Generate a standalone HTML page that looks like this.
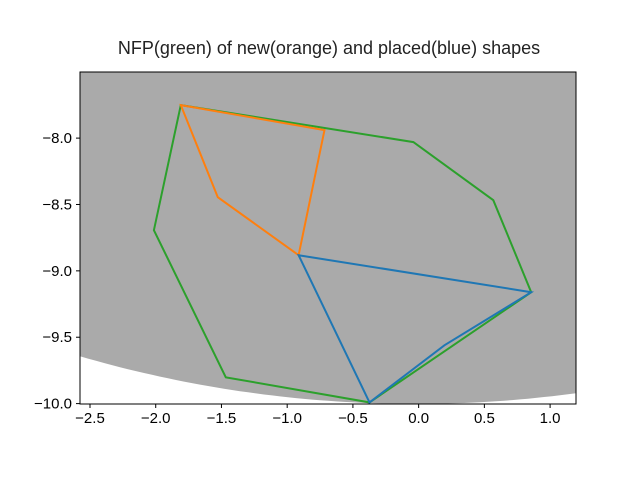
<!DOCTYPE html>
<html><head><meta charset="utf-8"><style>body{margin:0;background:#fff}svg{display:block;font-family:"Liberation Sans","DejaVu Sans",sans-serif}</style></head>
<body>
<svg id="chart" width="640" height="480">
<text x="329" y="54" text-anchor="middle" font-size="18" fill="#222">NFP(green) of new(orange) and placed(blue) shapes</text>
<clipPath id="clip"><rect x="80" y="72" width="496" height="332"/></clipPath>
<g id="plot" clip-path="url(#clip)"></g>
<g id="axes"></g>
</svg>
<script>
const xTicks=[-2.5,-2.0,-1.5,-1.0,-0.5,0.0,0.5,1.0];
const yTicks=[-8.0,-8.5,-9.0,-9.5,-10.0];
const greenX=[-1.809,-0.040,0.568,0.856,-0.374,-1.467,-2.014];
const greenY=[-7.751,-8.030,-8.468,-9.161,-9.991,-9.802,-8.694];
const orangeX=[-1.809,-0.716,-0.913,-1.528];
const orangeY=[-7.751,-7.940,-8.882,-8.445];
const blueX=[-0.913,0.856,0.196,-0.374];
const blueY=[-8.882,-9.161,-9.561,-9.991];
const X0=80,X1=576,Y0=72,Y1=404,xmin=-2.576,xmax=1.197,ymin=-10.003,ymax=-7.502;
const sx=v=>X0+(v-xmin)/(xmax-xmin)*(X1-X0);
const sy=v=>Y1-(v-ymin)/(ymax-ymin)*(Y1-Y0);
const NS="http://www.w3.org/2000/svg";
const plot=document.getElementById('plot'),axes=document.getElementById('axes');
function mk(tag,attrs,parent){const e=document.createElementNS(NS,tag);for(const k in attrs)e.setAttribute(k,attrs[k]);parent.appendChild(e);return e;}
let d="M80,72 L576,72 ";
const cx=415,R=1200,cy=404-R;
for(let px=576;px>=80;px-=8){const py=cy+Math.sqrt(R*R-(px-cx)*(px-cx));d+="L"+px+","+py.toFixed(1)+" ";}
d+="Z";
const bg=mk('path',{d:d,fill:'#aaaaaa'},plot);


function poly(xs,ys,color,name){
 const pts=xs.map((x,i)=>sx(x).toFixed(1)+","+sy(ys[i]).toFixed(1)).join(" ");
 const p=mk('polygon',{points:pts,fill:'none',stroke:color,'stroke-width':2},plot);
 
 
}
poly(greenX,greenY,'#2ca02c','nfp-green-polygon');
poly(orangeX,orangeY,'#ff7f0e','new-orange-polygon');
poly(blueX,blueY,'#1f77b4','placed-blue-polygon');
const fr=mk('rect',{x:X0,y:Y0,width:X1-X0,height:Y1-Y0,fill:'none',stroke:'#000','stroke-width':1},axes);


xTicks.forEach(v=>{const x=sx(v);
 mk('line',{x1:x,x2:x,y1:Y1,y2:Y1+4,stroke:'#000'},axes);
 const t=mk('text',{x:x,y:Y1+19,'text-anchor':'middle','font-size':15,fill:'#000'},axes);
 t.textContent=v.toFixed(1).replace('-','\u2212');
 
 });
yTicks.forEach(v=>{const y=sy(v);
 mk('line',{x1:X0-4,x2:X0,y1:y,y2:y,stroke:'#000'},axes);
 const t=mk('text',{x:X0-8,y:y+5,'text-anchor':'end','font-size':15,fill:'#000'},axes);
 t.textContent=v.toFixed(1).replace('-','\u2212');
 
 });
</script>
</body></html>
